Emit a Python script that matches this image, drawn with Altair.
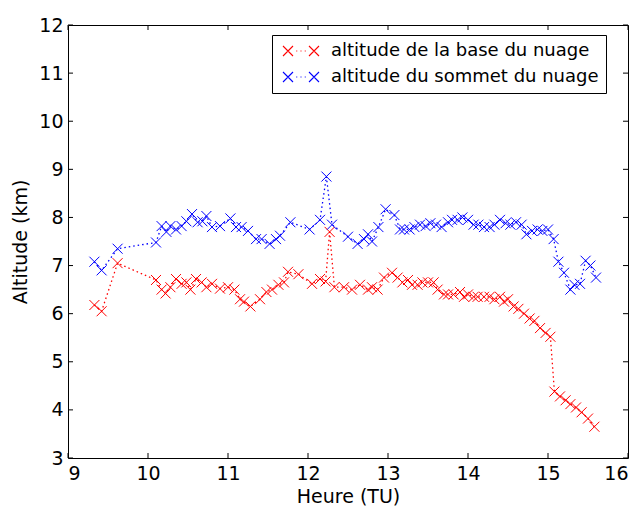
import altair as alt
import pandas as pd

# --- data ---
base_t = [9.33, 9.42, 9.62, 10.10, 10.17, 10.22, 10.28, 10.35, 10.42, 10.48, 10.53, 10.60,
          10.67, 10.73, 10.80, 10.90, 11.00, 11.08, 11.15, 11.20, 11.28, 11.40, 11.48, 11.55,
          11.63, 11.70, 11.75, 11.88, 12.05, 12.15, 12.22, 12.27, 12.33, 12.45, 12.55, 12.65,
          12.75, 12.80, 12.87, 12.95, 13.05, 13.12, 13.18, 13.25, 13.30, 13.37, 13.43, 13.50,
          13.57, 13.62, 13.70, 13.75, 13.82, 13.90, 13.95, 14.00, 14.07, 14.12, 14.20, 14.27,
          14.33, 14.40, 14.45, 14.50, 14.57, 14.63, 14.70, 14.77, 14.83, 14.90, 14.97, 15.03,
          15.08, 15.15, 15.22, 15.28, 15.35, 15.42, 15.50, 15.58]
base_alt = [6.18, 6.05, 7.05, 6.70, 6.50, 6.42, 6.55, 6.72, 6.62, 6.65, 6.50, 6.72,
            6.65, 6.55, 6.62, 6.52, 6.55, 6.50, 6.30, 6.25, 6.15, 6.30, 6.45, 6.50,
            6.60, 6.65, 6.87, 6.82, 6.62, 6.72, 6.67, 7.70, 6.55, 6.55, 6.50, 6.60,
            6.50, 6.55, 6.50, 6.75, 6.85, 6.75, 6.65, 6.70, 6.60, 6.60, 6.65, 6.65,
            6.65, 6.50, 6.40, 6.40, 6.40, 6.45, 6.35, 6.40, 6.35, 6.35, 6.35, 6.35,
            6.30, 6.35, 6.25, 6.30, 6.15, 6.10, 6.00, 5.90, 5.85, 5.70, 5.60, 5.52,
            4.38, 4.28, 4.20, 4.12, 4.05, 3.95, 3.82, 3.65]

top_t = [9.33, 9.42, 9.62, 10.10, 10.17, 10.23, 10.28, 10.35, 10.42, 10.48, 10.55, 10.62,
         10.68, 10.73, 10.80, 10.90, 11.03, 11.10, 11.17, 11.25, 11.35, 11.42, 11.52, 11.60,
         11.65, 11.78, 12.02, 12.15, 12.23, 12.30, 12.50, 12.62, 12.70, 12.75, 12.80, 12.88,
         12.97, 13.08, 13.15, 13.20, 13.27, 13.33, 13.40, 13.47, 13.53, 13.60, 13.67, 13.75,
         13.80, 13.87, 13.93, 14.00, 14.07, 14.13, 14.20, 14.27, 14.33, 14.40, 14.47, 14.53,
         14.60, 14.67, 14.73, 14.80, 14.87, 14.93, 15.00, 15.07, 15.13, 15.20, 15.28, 15.33,
         15.40, 15.47, 15.53, 15.60]
top_alt = [7.08, 6.90, 7.35, 7.48, 7.82, 7.70, 7.82, 7.75, 7.82, 7.92, 8.07, 7.90,
           7.92, 8.03, 7.80, 7.82, 7.98, 7.80, 7.80, 7.72, 7.55, 7.55, 7.45, 7.55,
           7.62, 7.90, 7.75, 7.95, 8.85, 7.85, 7.60, 7.45, 7.55, 7.65, 7.50, 7.80,
           8.17, 8.05, 7.75, 7.75, 7.75, 7.80, 7.85, 7.82, 7.88, 7.85, 7.80, 7.90,
           7.95, 7.95, 8.00, 7.95, 7.85, 7.85, 7.80, 7.80, 7.85, 7.95, 7.88, 7.85,
           7.90, 7.85, 7.65, 7.72, 7.75, 7.72, 7.75, 7.55, 7.08, 6.85, 6.50, 6.60,
           6.62, 7.10, 7.00, 6.75]

series_names = ["altitude de la base du nuage", "altitude du sommet du nuage"]
series_colors = ["#ff0000", "#0000ff"]
x_ticks = [9, 10, 11, 12, 13, 14, 15, 16]
y_ticks = [3, 4, 5, 6, 7, 8, 9, 10, 11, 12]

W, H = 560, 433
FONT = "DejaVu Sans"

df = pd.concat([
    pd.DataFrame({"t": base_t, "alt": base_alt, "serie": series_names[0]}),
    pd.DataFrame({"t": top_t, "alt": top_alt, "serie": series_names[1]}),
], ignore_index=True)

xscale = alt.Scale(domain=[9, 16], nice=False, zero=False)
yscale = alt.Scale(domain=[3, 12], nice=False, zero=False)

X_PATH = "M-1,-1L1,1M-1,1L1,-1"
LEGEND_PATH = ("M-3.6,-1L-1.6,1M-3.6,1L-1.6,-1M1.6,-1L3.6,1M1.6,1L3.6,-1"
               "M-0.95,0L-0.75,0M-0.1,0L0.1,0M0.75,0L0.95,0")

color = alt.Color(
    "serie:N",
    scale=alt.Scale(domain=series_names, range=series_colors),
    legend=alt.Legend(
        title=None, orient="none", legendX=204, legendY=10,
        symbolType=LEGEND_PATH, symbolSize=100, symbolStrokeWidth=1.1,
        symbolOpacity=1,
        labelFont=FONT, labelFontSize=18, labelColor="black", labelLimit=500,
        padding=7, rowPadding=8, symbolOffset=13, labelOffset=21,
        strokeColor="black", fillColor="white", cornerRadius=0,
    ),
)

x_enc = alt.X("t:Q", scale=xscale,
              axis=alt.Axis(values=x_ticks, format="d", title="Heure (TU)",
                            labelPadding=6, titleY=44, titleBaseline="alphabetic"))
y_enc = alt.Y("alt:Q", scale=yscale,
              axis=alt.Axis(values=y_ticks, format="d", title="Altitude (km)",
                            labelPadding=5, titlePadding=8))

line_layers = []
for name, col in zip(series_names, series_colors):
    line_layers.append(
        alt.Chart(df).transform_filter(alt.FieldEqualPredicate(field="serie", equal=name))
        .mark_line(strokeDash=[1.5, 3], strokeWidth=1.3, color=col)
        .encode(x=x_enc, y=y_enc)
    )

points = alt.Chart(df).mark_point(shape=X_PATH, filled=False, size=100,
                                  strokeWidth=1, opacity=1).encode(
    x=x_enc, y=y_enc, color=color)

xt = pd.DataFrame({"t": x_ticks})
yt = pd.DataFrame({"alt": y_ticks})
tick_bottom = alt.Chart(xt).mark_rule(color="black", strokeWidth=1).encode(
    x="t:Q", y=alt.value(H), y2=alt.value(H - 5))
tick_top = alt.Chart(xt).mark_rule(color="black", strokeWidth=1).encode(
    x="t:Q", y=alt.value(0), y2=alt.value(5))
tick_left = alt.Chart(yt).mark_rule(color="black", strokeWidth=1).encode(
    y="alt:Q", x=alt.value(0), x2=alt.value(5))
tick_right = alt.Chart(yt).mark_rule(color="black", strokeWidth=1).encode(
    y="alt:Q", x=alt.value(W), x2=alt.value(W - 5))

chart = alt.layer(*line_layers, points, tick_bottom, tick_top, tick_left, tick_right).properties(
    width=W, height=H,
    autosize=alt.AutoSizeParams(type="none"),
    padding={"left": 60, "top": 17, "right": 6, "bottom": 50},
    background="white",
).configure_view(
    stroke="black", strokeWidth=1
).configure_axis(
    domain=False, ticks=False, grid=False,
    labelFont=FONT, labelFontSize=19, labelColor="black",
    titleFont=FONT, titleFontSize=19, titleColor="black", titleFontWeight="normal",
)

chart.save("out.html", embed_options={"renderer": "svg", "actions": False})
